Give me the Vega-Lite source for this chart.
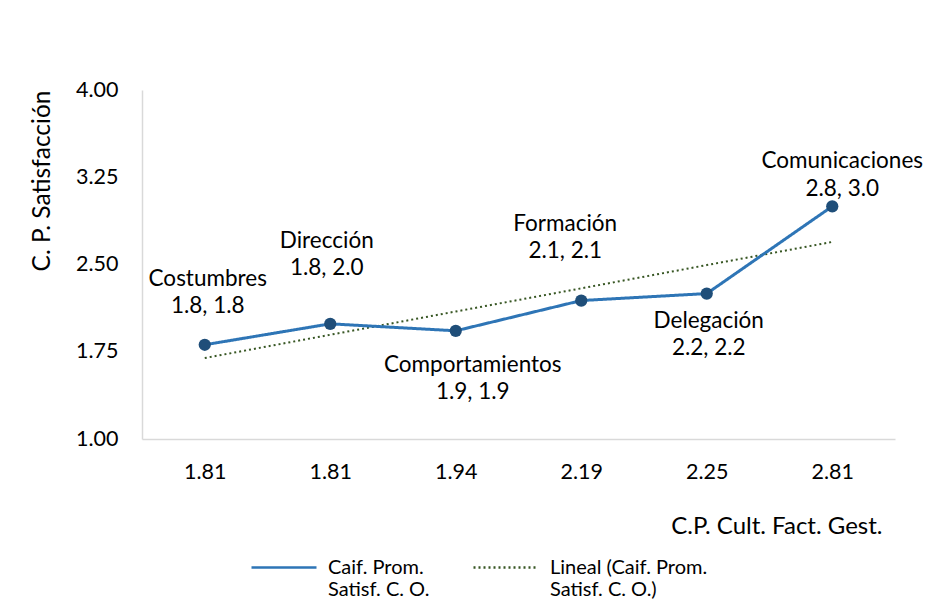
{
  "$schema": "https://vega.github.io/schema/vega-lite/v6.json",
  "autosize": "none",
  "width": 753,
  "height": 349,
  "padding": {"left": 142, "top": 90, "right": 55, "bottom": 176},
  "background": "white",
  "config": {
    "font": "Lato",
    "view": {"stroke": null},
    "axis": {"grid": false, "ticks": false, "domainColor": "#D9D9D9", "domainWidth": 1.5, "labelColor": "#000000", "titleColor": "#000000", "labelFont": "Lato", "titleFont": "Lato", "titleFontWeight": "normal"},
    "legend": {"labelFont": "Lato", "labelColor": "#000000"}
  },
  "data": {
    "values": [
      {"cat": "1|1.81", "name": "Costumbres", "y": 1.81, "trend": 1.696, "label": ["Costumbres", "1.8, 1.8"]},
      {"cat": "2|1.81", "name": "Dirección", "y": 1.99, "trend": 1.896, "label": ["Dirección", "1.8, 2.0"]},
      {"cat": "3|1.94", "name": "Comportamientos", "y": 1.93, "trend": 2.096, "label": ["Comportamientos", "1.9, 1.9"]},
      {"cat": "4|2.19", "name": "Formación", "y": 2.19, "trend": 2.295, "label": ["Formación", "2.1, 2.1"]},
      {"cat": "5|2.25", "name": "Delegación", "y": 2.25, "trend": 2.495, "label": ["Delegación", "2.2, 2.2"]},
      {"cat": "6|2.81", "name": "Comunicaciones", "y": 3.0, "trend": 2.694, "label": ["Comunicaciones", "2.8, 3.0"]}
    ]
  },
  "encoding": {
    "x": {
      "field": "cat", "type": "ordinal", "sort": null,
      "scale": {"type": "point", "padding": 0.5},
      "axis": {
        "labelExpr": "split(datum.label, '|')[1]",
        "labelAngle": 0, "labelFontSize": 21.5, "labelPadding": 33, "labelBaseline": "middle",
        "title": "C.P. Cult. Fact. Gest.", "titleFontSize": 24,
        "titleX": 740, "titleY": 87, "titleAlign": "right", "titleBaseline": "middle"
      }
    }
  },
  "layer": [
    {
      "mark": {"type": "line", "strokeWidth": 2},
      "encoding": {
        "y": {"field": "trend", "type": "quantitative"},
        "color": {"datum": "Lineal (Caif. Prom.|Satisf. C. O.)"},
        "strokeDash": {"datum": "Lineal (Caif. Prom.|Satisf. C. O.)"}
      }
    },
    {
      "mark": {"type": "line", "strokeWidth": 3},
      "encoding": {
        "y": {
          "field": "y", "type": "quantitative",
          "scale": {"domain": [1, 4], "nice": false, "zero": false},
          "axis": {
            "values": [1, 1.75, 2.5, 3.25, 4], "format": ".2f",
            "labelFontSize": 21.5, "labelPadding": 24,
            "title": "C. P. Satisfacción", "titleFontSize": 24.5, "titleAnchor": "end", "titlePadding": 21
          }
        },
        "strokeDash": {
          "datum": "Caif. Prom.|Satisf. C. O.",
          "scale": {"domain": ["Caif. Prom.|Satisf. C. O.", "Lineal (Caif. Prom.|Satisf. C. O.)"], "range": [[1, 0], [2, 3]]},
          "legend": {
            "title": null, "orient": "none", "legendX": 108, "legendY": 443.5, "direction": "horizontal",
            "symbolSize": 4225, "symbolStrokeWidth": 2.5, "labelFontSize": 20, "labelLimit": 300, "labelOffset": 10, "columnPadding": 38,
            "labelExpr": "split(datum.label, '|')"
          }
        },
        "color": {
          "datum": "Caif. Prom.|Satisf. C. O.",
          "scale": {"domain": ["Caif. Prom.|Satisf. C. O.", "Lineal (Caif. Prom.|Satisf. C. O.)"], "range": ["#2E75B6", "#375623"]},
          "legend": {
            "title": null, "orient": "none", "legendX": 108, "legendY": 443.5, "direction": "horizontal",
            "symbolSize": 4225, "symbolStrokeWidth": 2.5, "labelFontSize": 20, "labelLimit": 300, "labelOffset": 10, "columnPadding": 38,
            "labelExpr": "split(datum.label, '|')"
          }
        }
      }
    },
    {
      "mark": {"type": "circle", "size": 150, "opacity": 1, "color": "#1F4E79"},
      "encoding": {"y": {"field": "y", "type": "quantitative"}}
    },
    {
      "transform": [{"filter": "datum.name == 'Costumbres'"}],
      "mark": {"type": "text", "fontSize": 22.5, "lineHeight": 27.5, "baseline": "middle", "color": "#000000", "dy": -66, "dx": 3},
      "encoding": {"y": {"field": "y", "type": "quantitative"}, "text": {"field": "label"}}
    },
    {
      "transform": [{"filter": "datum.name == 'Dirección'"}],
      "mark": {"type": "text", "fontSize": 22.5, "lineHeight": 27.5, "baseline": "middle", "color": "#000000", "dy": -83, "dx": -3.5},
      "encoding": {"y": {"field": "y", "type": "quantitative"}, "text": {"field": "label"}}
    },
    {
      "transform": [{"filter": "datum.name == 'Comportamientos'"}],
      "mark": {"type": "text", "fontSize": 22.5, "lineHeight": 27.5, "baseline": "middle", "color": "#000000", "dy": 34, "dx": 17},
      "encoding": {"y": {"field": "y", "type": "quantitative"}, "text": {"field": "label"}}
    },
    {
      "transform": [{"filter": "datum.name == 'Formación'"}],
      "mark": {"type": "text", "fontSize": 22.5, "lineHeight": 27.5, "baseline": "middle", "color": "#000000", "dy": -77, "dx": -16},
      "encoding": {"y": {"field": "y", "type": "quantitative"}, "text": {"field": "label"}}
    },
    {
      "transform": [{"filter": "datum.name == 'Delegación'"}],
      "mark": {"type": "text", "fontSize": 22.5, "lineHeight": 27.5, "baseline": "middle", "color": "#000000", "dy": 27, "dx": 2},
      "encoding": {"y": {"field": "y", "type": "quantitative"}, "text": {"field": "label"}}
    },
    {
      "transform": [{"filter": "datum.name == 'Comunicaciones'"}],
      "mark": {"type": "text", "fontSize": 22.5, "lineHeight": 27.5, "baseline": "middle", "color": "#000000", "dy": -45, "dx": 10},
      "encoding": {"y": {"field": "y", "type": "quantitative"}, "text": {"field": "label"}}
    }
  ]
}
